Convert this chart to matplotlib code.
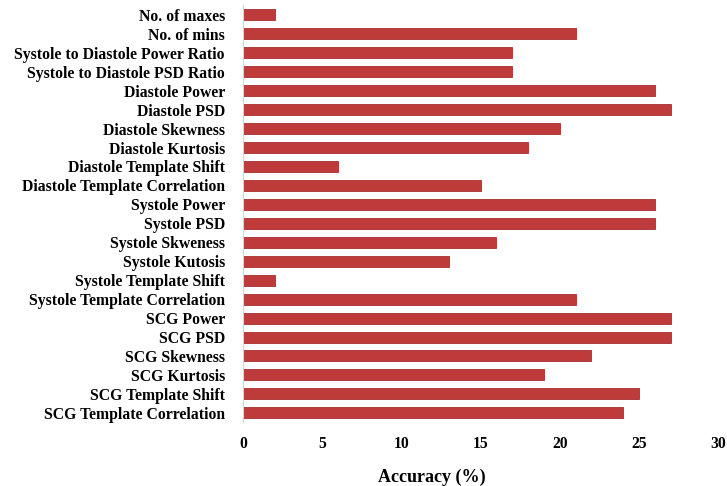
import matplotlib.pyplot as plt
import numpy as np

# features, top to bottom as in the figure
features = ["No. of maxes", "No. of mins", "Systole to Diastole Power Ratio",
            "Systole to Diastole PSD Ratio", "Diastole Power", "Diastole PSD",
            "Diastole Skewness", "Diastole Kurtosis", "Diastole Template Shift",
            "Diastole Template Correlation", "Systole Power", "Systole PSD",
            "Systole Skweness", "Systole Kutosis", "Systole Template Shift",
            "Systole Template Correlation", "SCG Power", "SCG PSD",
            "SCG Skewness", "SCG Kurtosis", "SCG Template Shift",
            "SCG Template Correlation"]
accuracy = [2, 21, 17, 17, 26, 27, 20, 18, 6, 15, 26, 26,
            16, 13, 2, 21, 27, 27, 22, 19, 25, 24]
xticks = [0, 5, 10, 15, 20, 25, 30]

plt.rcParams['font.family'] = ['Liberation Serif', 'DejaVu Serif']

fig = plt.figure(figsize=(7.27, 4.86), dpi=100)
ax = fig.add_axes([0.334, 0.131, 0.654, 0.858])

y = np.arange(len(features))[::-1]
ax.barh(y, accuracy, height=0.58, color="#BF3A3A", edgecolor="#A52F2F", linewidth=0.6)

ax.set_xlim(0, 30)
ax.set_ylim(-0.5, len(features) - 0.5)
ax.set_yticks(y)
ax.set_yticklabels(features, fontsize=11.3, fontweight="bold")
ax.set_xticks(xticks)
ax.set_xticklabels([str(t) for t in xticks], fontsize=11.3, fontweight="bold")
ax.tick_params(axis="y", length=0, pad=13)
ax.tick_params(axis="x", length=0, pad=10)

for s in ["top", "right", "bottom"]:
    ax.spines[s].set_visible(False)
ax.spines["left"].set_color("#C8D6EA")
ax.spines["left"].set_linewidth(0.8)

ax.set_xlabel("Accuracy (%)", fontsize=13, fontweight="bold")
ax.xaxis.set_label_coords(0.398, -0.112)

fig.savefig("out.png", dpi=100)
